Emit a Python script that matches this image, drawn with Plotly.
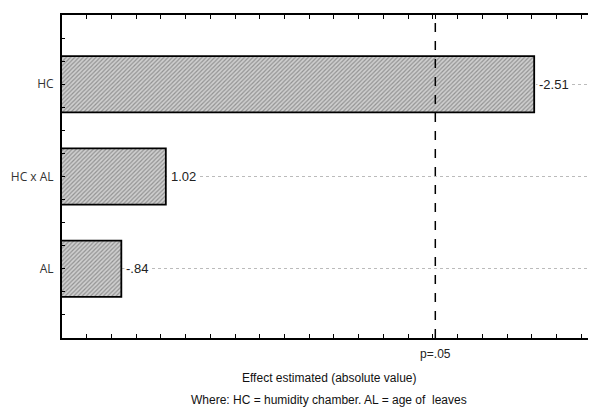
import plotly.graph_objects as go

categories = ["HC", "HC x AL", "AL"]
effects = [-2.51, 1.02, -0.84]
effect_labels = ["-2.51", "1.02", "-.84"]
y_pos = [2, 1, 0]
p_crit = 2.11
p_label = "p=.05"
x_title = "Effect estimated (absolute value)"
note = "Where: HC = humidity chamber. AL = age of  leaves"

abs_eff = [abs(v) for v in effects]

W, H = 588, 404          # page body has an 8px default margin
ML, MT, MB = 54, 7, 74

fig = go.Figure()
fig.add_trace(go.Bar(
    x=abs_eff, y=y_pos, orientation="h", width=0.61, base=0,
    marker=dict(color="#b0b0b0",
                line=dict(color="black", width=1.8),
                pattern=dict(shape="/", size=3, solidity=0.4, fgcolor="#555555", bgcolor="#cfcfcf")),
    showlegend=False, hoverinfo="skip",
))

for v, y, t in zip(abs_eff, y_pos, effect_labels):
    fig.add_annotation(x=v, y=y, text=t, showarrow=False, xanchor="left", xshift=3,
                       bgcolor="white", borderpad=1,
                       font=dict(family="Liberation Sans, Arial", size=13, color="#222"))

fig.add_shape(type="line", x0=p_crit, x1=p_crit, y0=0, y1=1, xref="x", yref="paper",
              line=dict(color="black", width=1.5, dash="dash"))

ph = H - MT - MB
for txt, ypix in [(x_title, 370), (note, 392)]:
    fig.add_annotation(x=0.5, xref="paper", y=(H - MB - ypix) / ph, yref="paper",
                       yanchor="middle", text=txt, showarrow=False,
                       font=dict(family="Liberation Sans, Arial", size=12, color="#111"))

fig.update_layout(
    width=W, height=H,
    margin=dict(l=ML, r=0, t=MT, b=MB, autoexpand=False),
    plot_bgcolor="white", paper_bgcolor="white",
)

fig.update_xaxes(
    range=[0.6, 2.76], showgrid=False, zeroline=False, automargin=False,
    showline=True, linecolor="black", linewidth=2, mirror="ticks",
    tickmode="array", tickvals=[p_crit], ticktext=[p_label],
    ticks="inside", ticklen=4, tickcolor="black", tickwidth=1,
    tickfont=dict(family="Liberation Sans, Arial", size=12, color="#222"),
    ticklabelstandoff=4,
    minor=dict(tick0=0.6, dtick=0.1, ticks="inside", ticklen=4, tickcolor="black", showgrid=False),
)
fig.update_yaxes(
    range=[-0.75, 2.75], zeroline=False, automargin=False,
    showline=True, linecolor="black", linewidth=2,
    tickmode="array", tickvals=y_pos, ticktext=categories,
    ticks="inside", ticklen=3, tickcolor="black",
    showgrid=True, gridcolor="#bbbbbb", griddash="dot", gridwidth=1,
    tickfont=dict(family="Open Sans, Noto Sans", size=12, color="#333"),
    ticklabelstandoff=4,
    minor=dict(tick0=0, dtick=0.25, ticks="inside", ticklen=3, tickcolor="black", showgrid=False),
)

fig.write_html("out.html")
